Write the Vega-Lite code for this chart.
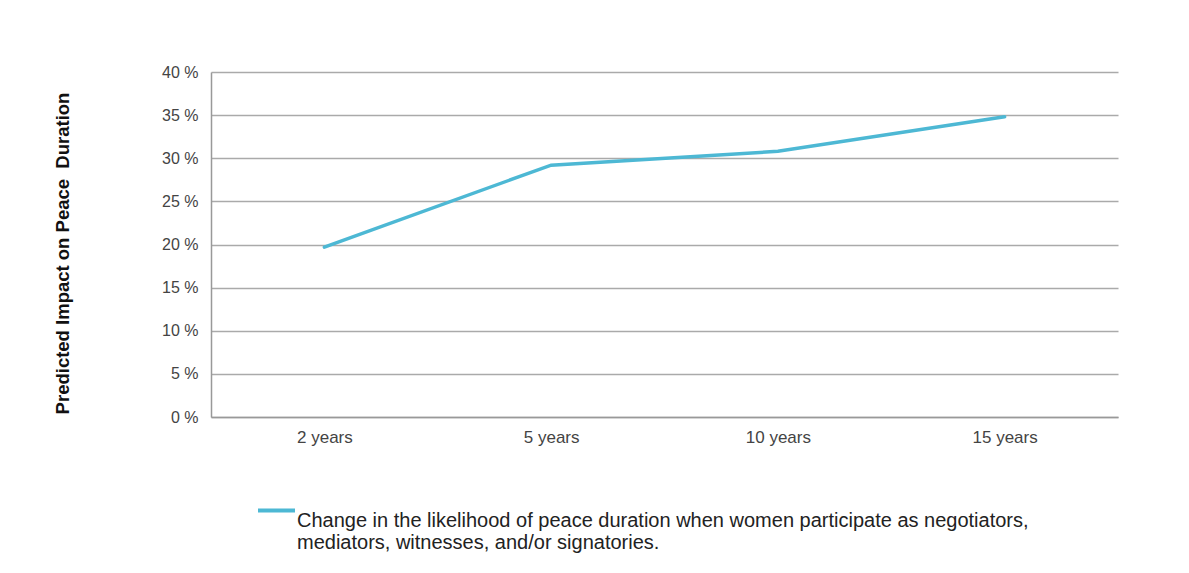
{
  "$schema": "https://vega.github.io/schema/vega-lite/v6.json",
  "width": 907,
  "height": 345,
  "autosize": {"type": "none"},
  "padding": {"left": 211, "top": 72, "right": 71, "bottom": 156},
  "background": "white",
  "config": {"view": {"stroke": null}, "font": "Liberation Sans"},
  "data": {
    "values": [
      {"period": "2 years", "impact": 19.7, "series": "Change in the likelihood of peace duration when women participate as negotiators, mediators, witnesses, and/or signatories."},
      {"period": "5 years", "impact": 29.2, "series": "Change in the likelihood of peace duration when women participate as negotiators, mediators, witnesses, and/or signatories."},
      {"period": "10 years", "impact": 30.8, "series": "Change in the likelihood of peace duration when women participate as negotiators, mediators, witnesses, and/or signatories."},
      {"period": "15 years", "impact": 34.8, "series": "Change in the likelihood of peace duration when women participate as negotiators, mediators, witnesses, and/or signatories."}
    ]
  },
  "mark": {"type": "line", "strokeWidth": 3.5, "strokeCap": "round"},
  "encoding": {
    "x": {
      "field": "period",
      "type": "ordinal",
      "sort": null,
      "scale": {"type": "point", "padding": 0.5},
      "axis": {
        "title": null,
        "labelAngle": 0,
        "labelFontSize": 17,
        "labelColor": "#444",
        "labelPadding": 12,
        "ticks": false,
        "grid": false,
        "domainColor": "#999",
        "domainWidth": 1.5
      }
    },
    "y": {
      "field": "impact",
      "type": "quantitative",
      "scale": {"domain": [0, 40], "nice": false},
      "axis": {
        "values": [0, 5, 10, 15, 20, 25, 30, 35, 40],
        "labelExpr": "datum.value + ' %'",
        "labelFontSize": 16,
        "labelColor": "#444",
        "labelPadding": 13,
        "ticks": false,
        "grid": true,
        "gridColor": "#aaa",
        "gridWidth": 1.5,
        "domainColor": "#999",
        "domainWidth": 1.5,
        "title": "Predicted Impact on Peace\u00a0 Duration",
        "titleFontSize": 18.5,
        "titleFontWeight": "bold",
        "titleColor": "#111",
        "titleX": -139,
        "titleY": 181
      }
    },
    "color": {
      "field": "series",
      "type": "nominal",
      "scale": {"range": ["#4db8d4"]},
      "legend": {
        "orient": "none",
        "legendX": 45,
        "legendY": 418,
        "title": null,
        "padding": 0,
        "symbolType": "stroke",
        "symbolSize": 1369,
        "symbolStrokeWidth": 4,
        "labelFontSize": 20,
        "labelColor": "#222",
        "labelLimit": 0,
        "labelOffset": 0,
        "labelBaseline": "top",
        "labelExpr": "['Change in the likelihood of peace duration when women participate as negotiators,', 'mediators, witnesses, and/or signatories.']"
      }
    }
  }
}
